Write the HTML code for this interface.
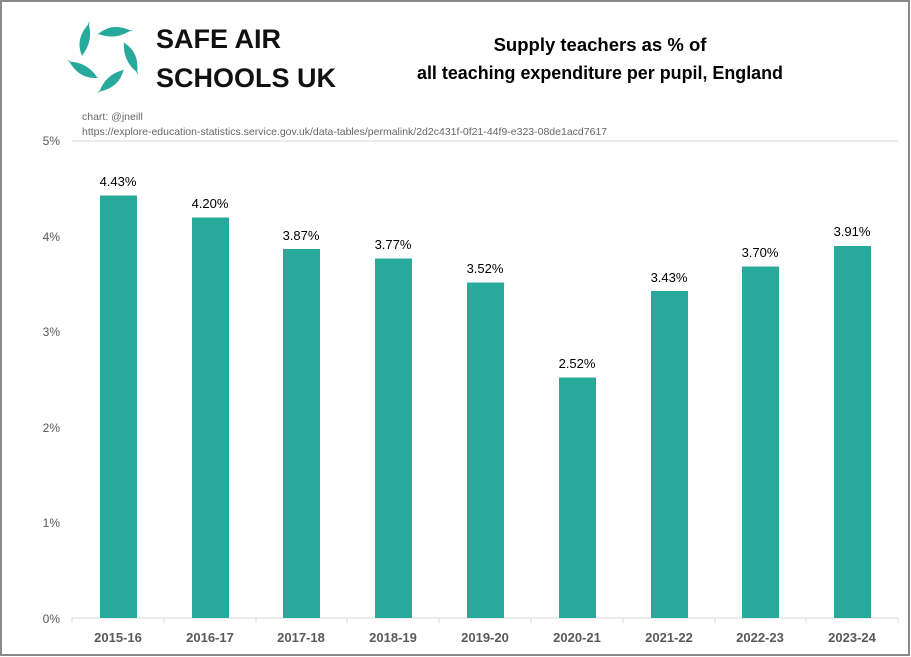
<!DOCTYPE html>
<html><head><meta charset="utf-8"><style>
body{margin:0;background:#fff;}
svg{display:block;font-family:"Liberation Sans",sans-serif;}
</style></head><body>
<svg width="911" height="657" viewBox="0 0 911 657">
<rect x="1" y="1" width="908" height="654" fill="#fff" stroke="#8a8a8a" stroke-width="2"/>
<g fill="#27a99b" transform="translate(105,56) scale(0.85)">
 <g id="lf"><path d="M-8,-26 Q8,-40 30,-30 Q12,-18 -8,-26Z"/><line x1="-8" y1="-26" x2="32" y2="-30" stroke="#27a99b" stroke-width="1"/></g>
 <use href="#lf" transform="rotate(72)"/>
 <use href="#lf" transform="rotate(144)"/>
 <use href="#lf" transform="rotate(216)"/>
 <use href="#lf" transform="rotate(288)"/>
</g>
<text x="156" y="48" font-size="27" font-weight="bold" fill="#111">SAFE AIR</text>
<text x="156" y="87" font-size="27" font-weight="bold" fill="#111">SCHOOLS UK</text>
<text x="600" y="51" font-size="18.5" font-weight="bold" text-anchor="middle" fill="#000">Supply teachers as % of</text>
<text x="600" y="79" font-size="18.5" font-weight="bold" text-anchor="middle" fill="#000" textLength="366" lengthAdjust="spacingAndGlyphs">all teaching expenditure per pupil, England</text>
<text x="82" y="120" font-size="10.5" fill="#666">chart: @jneill</text>
<text x="82" y="135" font-size="10.5" fill="#666">https://explore-education-statistics.service.gov.uk/data-tables/permalink/2d2c431f-0f21-44f9-e323-08de1acd7617</text>
<line x1="72" y1="141" x2="898" y2="141" stroke="#d9d9d9"/>
<g font-size="12" fill="#595959" text-anchor="end">
<text x="60" y="145">5%</text><text x="60" y="241">4%</text><text x="60" y="336">3%</text><text x="60" y="432">2%</text><text x="60" y="527">1%</text><text x="60" y="623">0%</text>
</g>
<g stroke="#d9d9d9">
<line x1="72" y1="618" x2="898" y2="618"/>
<line x1="72" y1="618" x2="72" y2="623"/><line x1="164" y1="618" x2="164" y2="623"/><line x1="256" y1="618" x2="256" y2="623"/><line x1="347" y1="618" x2="347" y2="623"/><line x1="439" y1="618" x2="439" y2="623"/><line x1="531" y1="618" x2="531" y2="623"/><line x1="623" y1="618" x2="623" y2="623"/><line x1="715" y1="618" x2="715" y2="623"/><line x1="806" y1="618" x2="806" y2="623"/><line x1="898" y1="618" x2="898" y2="623"/>
</g>
<g fill="#27a99b">
<rect x="100" y="195.5" width="37" height="422.5"/>
<rect x="192" y="217.5" width="37" height="400.5"/>
<rect x="283" y="249" width="37" height="369"/>
<rect x="375" y="258.5" width="37" height="359.5"/>
<rect x="467" y="282.5" width="37" height="335.5"/>
<rect x="559" y="377.5" width="37" height="240.5"/>
<rect x="651" y="291" width="37" height="327"/>
<rect x="742" y="266.5" width="37" height="351.5"/>
<rect x="834" y="246" width="37" height="372"/>
</g>
<g font-size="13" fill="#000" text-anchor="middle">
<text x="118" y="186">4.43%</text><text x="210" y="208">4.20%</text><text x="301" y="240">3.87%</text><text x="393" y="249">3.77%</text><text x="485" y="273">3.52%</text><text x="577" y="368">2.52%</text><text x="669" y="282">3.43%</text><text x="760" y="257">3.70%</text><text x="852" y="236">3.91%</text>
</g>
<g font-size="13" font-weight="bold" fill="#595959" text-anchor="middle">
<text x="118" y="642">2015-16</text><text x="210" y="642">2016-17</text><text x="301" y="642">2017-18</text><text x="393" y="642">2018-19</text><text x="485" y="642">2019-20</text><text x="577" y="642">2020-21</text><text x="669" y="642">2021-22</text><text x="760" y="642">2022-23</text><text x="852" y="642">2023-24</text>
</g>
</svg>
</body></html>
